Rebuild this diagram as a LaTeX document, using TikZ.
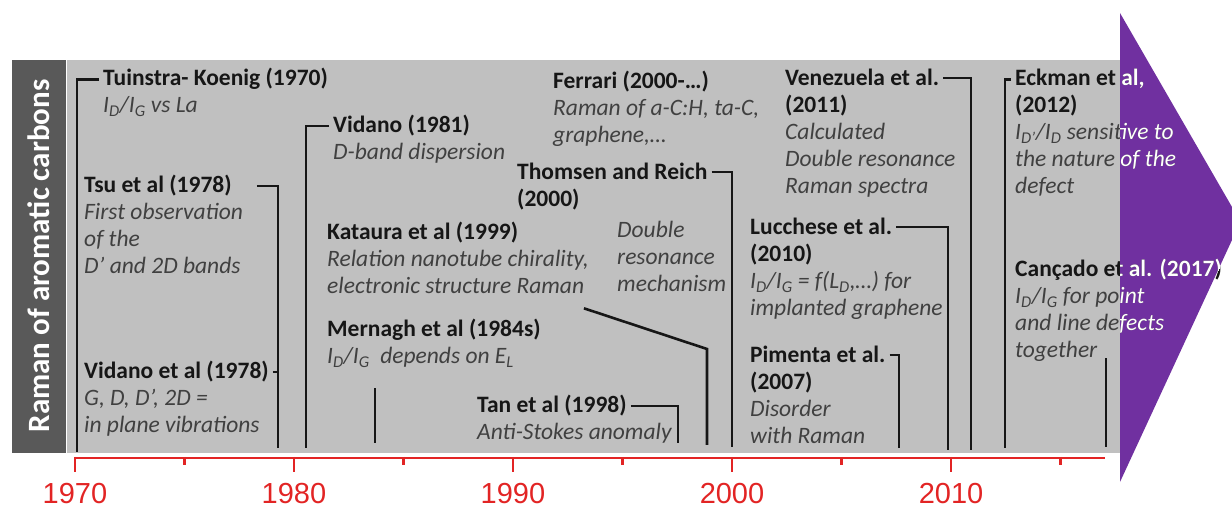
\documentclass[tikz,border=0pt]{standalone}
\usepackage{fontspec}
\setmainfont{Carlito}
\newfontfamily\axisfont{Liberation Sans}

\definecolor{panelgray}{RGB}{192,192,192}
\definecolor{sidegray}{RGB}{89,89,89}
\definecolor{arrowpurple}{RGB}{112,48,160}
\definecolor{axisred}{RGB}{226,36,36}
\definecolor{titleink}{RGB}{22,22,22}
\definecolor{descink}{RGB}{64,64,64}

\newcommand{\eventlines}[1]{\begin{tabular}[t]{@{}l@{}}#1\end{tabular}}
\newcommand{\yeartag}[1]{{\color{titleink}\bfseries\upshape #1}}
\newcommand{\lo}[1]{\textsubscript{#1}}

\begin{document}
\begin{tikzpicture}[x=1pt, y=-1pt,
  title/.style={anchor=base west, inner sep=0pt, text=titleink, font=\fontsize{23.5}{27}\selectfont\bfseries},
  desc/.style={anchor=base west, inner sep=0pt, text=descink, font=\fontsize{23.5}{27}\selectfont\itshape},
  conn/.style={draw=titleink, line width=2.6pt},
  stub/.style={conn, shorten <=4pt},
  redline/.style={draw=axisred, line width=2.5pt},
  yearlabel/.style={text=axisred, inner sep=0pt, font=\axisfont\fontsize{29}{29}\selectfont}]
	\useasboundingbox (0,0) rectangle (1232,510);

	% background
	\fill[sidegray] (12,60) rectangle (66,453);
	\fill[panelgray] (67,60) rectangle (1120,453);
	\fill[arrowpurple] (1120,13) -- (1232,207) -- (1232,240) -- (1120,482) -- cycle;
	\node[rotate=90, text=white, font=\fontsize{31}{31}\selectfont\bfseries] (sidelabel) at (39,256) {Raman of aromatic carbons};

	% axis
	\draw[redline] (75,458) -- (1105,458);
	\foreach \yr in {1970,1980,...,2010}{
		\pgfmathsetmacro{\xx}{75+(\yr-1970)*21.9}
		\draw[redline] (\xx,457) -- (\xx,472);
		\node[yearlabel] (lbl\yr) at (\xx,494) {\yr};
	}
	\foreach \yr in {1975,1985,...,2015}{
		\pgfmathsetmacro{\xx}{75+(\yr-1970)*21.9}
		\draw[redline] (\xx,457) -- (\xx,465);
	}

	% nodes
	\node[title] (tuinstra) at (103,86) {Tuinstra- Koenig (1970)};
	\node[desc] (tuinstraD) at ([yshift=-27pt]tuinstra.base west) {\eventlines{I\lo{D}/I\lo{G} vs La}};
	\node[title] (tsu) at (84,193) {Tsu et al (1978)};
	\node[desc] (tsuD) at ([yshift=-27pt]tsu.base west) {\eventlines{First observation\\of the\\D’ and 2D bands}};
	\node[title] (vidanoA) at (84,379) {Vidano et al (1978)};
	\node[desc] (vidanoAD) at ([yshift=-27pt]vidanoA.base west) {\eventlines{G, D, D’, 2D =\\in plane vibrations}};
	\node[title] (vidanoB) at (333,133) {Vidano (1981)};
	\node[desc] (vidanoBD) at ([yshift=-27pt]vidanoB.base west) {\eventlines{D-band dispersion}};
	\node[title] (kataura) at (327,240) {Kataura et al (1999)};
	\node[desc] (katauraD) at ([yshift=-27pt]kataura.base west) {\eventlines{Relation nanotube chirality,\\electronic structure Raman}};
	\node[title] (mernagh) at (327,337) {Mernagh et al (1984s)};
	\node[desc] (mernaghD) at ([yshift=-27pt]mernagh.base west) {\eventlines{I\lo{D}/I\lo{G}~ depends on E\lo{L}}};
	\node[title] (tan) at (477,413) {Tan et al (1998)};
	\node[desc] (tanD) at ([yshift=-27pt]tan.base west) {\eventlines{Anti-Stokes anomaly}};
	\node[title] (ferrari) at (553,89) {Ferrari (2000-…)};
	\node[desc] (ferrariD) at ([yshift=-27pt]ferrari.base west) {\eventlines{Raman of a-C:H, ta-C,\\graphene,…}};
	\node[title] (thomsen) at (517,180) {Thomsen and Reich};
	\node[desc] (thomsenD) at ([yshift=-27pt]thomsen.base west) {\eventlines{\yeartag{(2000)}}};
	\node[desc] (thomsenM) at (617,238) {\eventlines{Double\\resonance\\mechanism}};
	\node[title] (venezuela) at (785,86) {Venezuela et al.};
	\node[desc] (venezuelaD) at ([yshift=-27pt]venezuela.base west) {\eventlines{\yeartag{(2011)}\\Calculated\\Double resonance\\Raman spectra}};
	\node[title] (lucchese) at (750,235) {Lucchese et al.};
	\node[desc] (luccheseD) at ([yshift=-27pt]lucchese.base west) {\eventlines{\yeartag{(2010)}\\I\lo{D}/I\lo{G} = f(L\lo{D},…) for\\implanted graphene}};
	\node[title] (pimenta) at (750,363) {Pimenta et al.};
	\node[desc] (pimentaD) at ([yshift=-27pt]pimenta.base west) {\eventlines{\yeartag{(2007)}\\Disorder\\with Raman}};
	\node[title] (eckman) at (1015,86) {Eckman et al,};
	\node[desc] (eckmanD) at ([yshift=-27pt]eckman.base west) {\eventlines{\yeartag{(2012)}\\I\lo{D’}/I\lo{D} sensitive to\\the nature of the\\defect}};
	\node[title] (cancado) at (1015,277) {Cançado et al. (2017)};
	\node[desc] (cancadoD) at ([yshift=-27pt]cancado.base west) {\eventlines{I\lo{D}/I\lo{G} for point\\and line defects\\together}};

	% axis ends
	\coordinate (at1970) at (77,452);
	\coordinate (at1978) at (278,448);
	\coordinate (at1981) at (306,448);
	\coordinate (at1984) at (375,443);
	\coordinate (at1998) at (678,443);
	\coordinate (at1999) at (707,445);
	\coordinate (at2000) at (732,447);
	\coordinate (at2007) at (899,448);
	\coordinate (at2010) at (948,450);
	\coordinate (at2011) at (971,450);
	\coordinate (at2012) at (1005,448);
	\coordinate (at2017) at (1106,447);

	% edges
	\draw[stub] (tuinstra.west) -| (at1970);
	\draw[stub, shorten <=25pt] (tsu.east) -| (at1978);
	\draw[stub] (vidanoA.east) -| (at1978);
	\draw[stub] (vidanoB.west) -| (at1981);
	\draw[conn] (at1984) -- ([yshift=55pt]at1984);
	\draw[conn] ([shift={(-5pt,-6pt)}]katauraD.south east) -- ([yshift=96pt]at1999) -- (at1999);
	\draw[stub] (tan.east) -| (at1998);
	\draw[stub] (thomsen.east) -| (at2000);
	\draw[stub] (pimenta.east) -| (at2007);
	\draw[stub] (lucchese.east) -| (at2010);
	\draw[stub] (venezuela.east) -| (at2011);
	\draw[stub] (eckman.west) -| (at2012);
	\draw[conn] (at2017) -- ([yshift=89pt]at2017);

	% text over the arrow
	\begin{scope}
		\clip (1120,13) -- (1232,207) -- (1232,240) -- (1120,482) -- cycle;
		\colorlet{titleink}{white}\colorlet{descink}{white}
		\node[title] (eckmanW) at (eckman.base west) {Eckman et al,};
		\node[desc] (eckmanDW) at (eckmanD.base west) {\eventlines{\yeartag{(2012)}\\I\lo{D’}/I\lo{D} sensitive to\\the nature of the\\defect}};
		\node[title] (cancadoW) at (cancado.base west) {Cançado et al. (2017)};
		\node[desc] (cancadoDW) at (cancadoD.base west) {\eventlines{I\lo{D}/I\lo{G} for point\\and line defects\\together}};
	\end{scope}
\end{tikzpicture}
\end{document}
